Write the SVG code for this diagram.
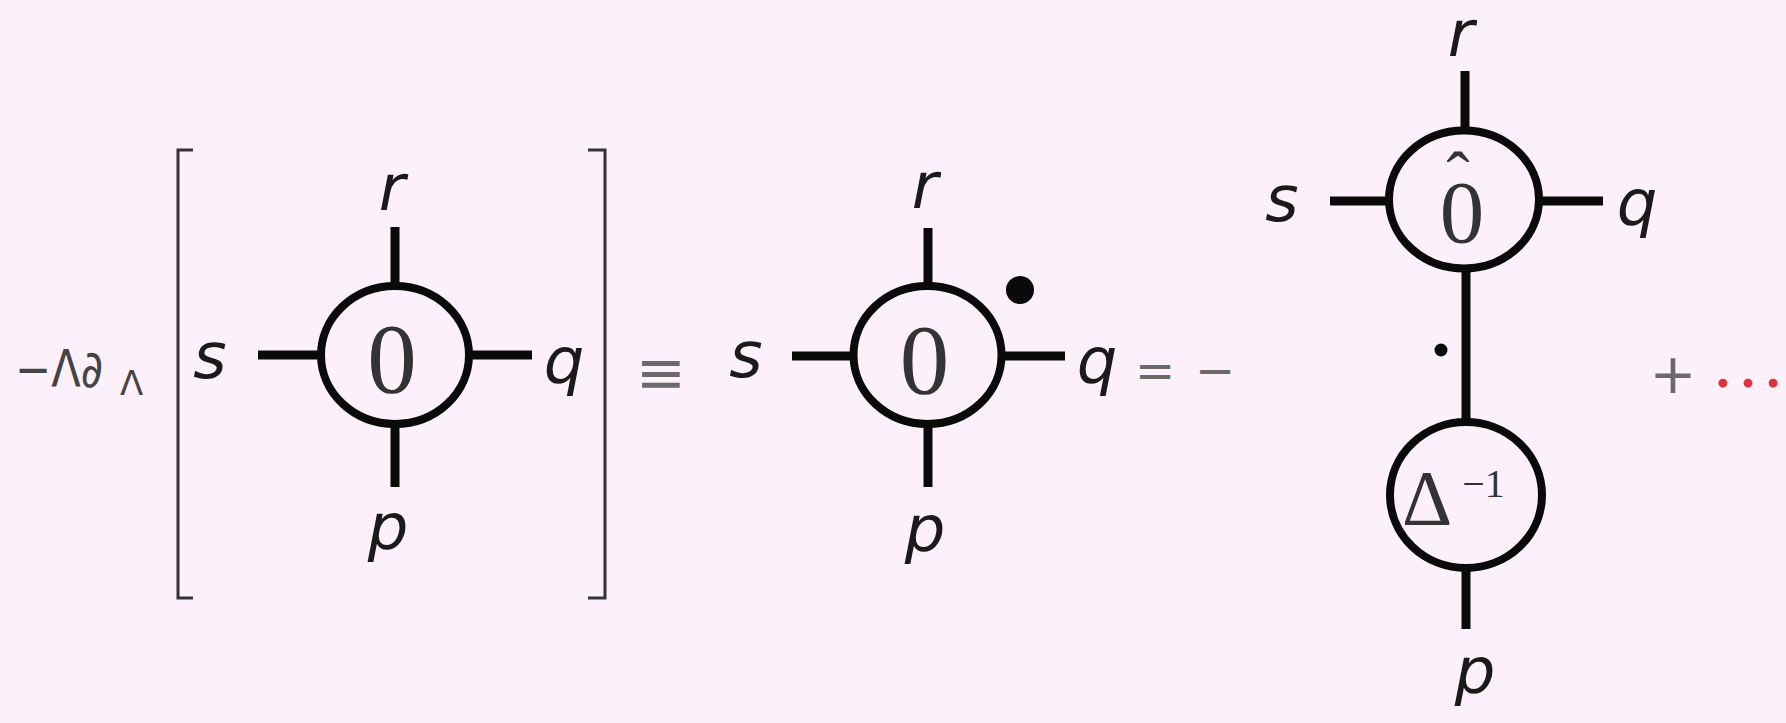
<svg xmlns="http://www.w3.org/2000/svg" width="1786" height="723" viewBox="0 0 1786 723">
<style>
.bg{fill:#fcf0fa}
.node{fill:none;stroke:#0a0a0a;stroke-width:8}
.edge{stroke:#0a0a0a;stroke-width:9;fill:none}
.lbl{font-family:"DejaVu Sans",sans-serif;font-style:italic;font-size:64px;fill:#1a1a1a;text-anchor:middle}
.num{font-family:"Liberation Serif",serif;font-size:99px;fill:#333;text-anchor:middle}
.op{font-family:"DejaVu Sans",sans-serif;fill:#6a6a6a;text-anchor:middle}
.brk{fill:none;stroke:#333;stroke-width:3}
</style>
<rect class="bg" x="0" y="0" width="1786" height="723"/>

<g id="prefix">
<text x="15" y="387" font-family="DejaVu Sans,sans-serif" font-size="52" fill="#444" textLength="88" lengthAdjust="spacingAndGlyphs">−Λ∂</text>
<text x="120" y="395" font-family="DejaVu Sans,sans-serif" font-size="34" fill="#444">Λ</text>
</g>
<g id="brackets">
<path class="brk" d="M193,150 H178 V598 H193"/>
<path class="brk" d="M588,150 H605 V598 H588"/>
</g>

<g id="connectors">
<line class="edge" x1="395" y1="227" x2="395" y2="286"/>
<line class="edge" x1="395" y1="424" x2="395" y2="487"/>
<line class="edge" x1="258" y1="355" x2="321" y2="355"/>
<line class="edge" x1="469" y1="355" x2="532" y2="355"/>

<line class="edge" x1="928" y1="228" x2="928" y2="286"/>
<line class="edge" x1="928" y1="424" x2="928" y2="487"/>
<line class="edge" x1="792" y1="356" x2="854" y2="356"/>
<line class="edge" x1="1001" y1="356" x2="1065" y2="356"/>

<line class="edge" x1="1465" y1="71" x2="1465" y2="131"/>
<line class="edge" x1="1330" y1="201" x2="1391" y2="201"/>
<line class="edge" x1="1539" y1="201" x2="1603" y2="201"/>
<line class="edge" x1="1466" y1="268" x2="1466" y2="423"/>
<line class="edge" x1="1466" y1="568" x2="1466" y2="629"/>
</g>

<g id="node1">
<ellipse class="node" cx="395" cy="355" rx="74" ry="69"/>
<text class="num" x="392" y="392">0</text>
</g>
<g id="node2">
<ellipse class="node" cx="927.5" cy="355" rx="74" ry="69"/>
<text class="num" x="924.5" y="393">0</text>
<circle cx="1020" cy="290" r="14" fill="#0a0a0a"/>
</g>
<g id="node3">
<ellipse class="node" cx="1464" cy="199.5" rx="75" ry="69"/>
<text x="1462" y="242" font-family="Liberation Serif,serif" font-size="89" fill="#333" text-anchor="middle">0</text>
<text x="1458" y="200" font-family="Liberation Serif,serif" font-size="70" fill="#333" text-anchor="middle">ˆ</text>
</g>
<g id="node4">
<ellipse class="node" cx="1466" cy="495" rx="76" ry="73"/>
<text x="1402" y="524" font-family="Liberation Serif,serif" font-size="78" fill="#333">Δ<tspan font-size="40" dx="10" dy="-27">−1</tspan></text>
</g>
<circle id="dot2" cx="1441" cy="350" r="6.5" fill="#0a0a0a"/>

<g id="labels">
<text class="lbl" x="392" y="210">r</text>
<text class="lbl" x="210" y="378">s</text>
<text class="lbl" x="564" y="383">q</text>
<text class="lbl" x="388" y="549">p</text>

<text class="lbl" x="925" y="208">r</text>
<text class="lbl" x="746" y="377">s</text>
<text class="lbl" x="1097" y="383">q</text>
<text class="lbl" x="925" y="551">p</text>

<text class="lbl" x="1461" y="56">r</text>
<text class="lbl" x="1282" y="221">s</text>
<text class="lbl" x="1637" y="225">q</text>
<text class="lbl" x="1475" y="693">p</text>
</g>

<g id="operators">
<text class="op" x="661" y="393" font-size="60">≡</text>
<text class="op" x="1155" y="387" font-size="48">=</text>
<text class="op" x="1215" y="387" font-size="48">−</text>
<text class="op" x="1673" y="393" font-size="56" fill="#777">+</text>
<text x="1748" y="387" font-family="Liberation Serif,serif" font-size="75" fill="#e0303c" text-anchor="middle">…</text>
</g>
</svg>
